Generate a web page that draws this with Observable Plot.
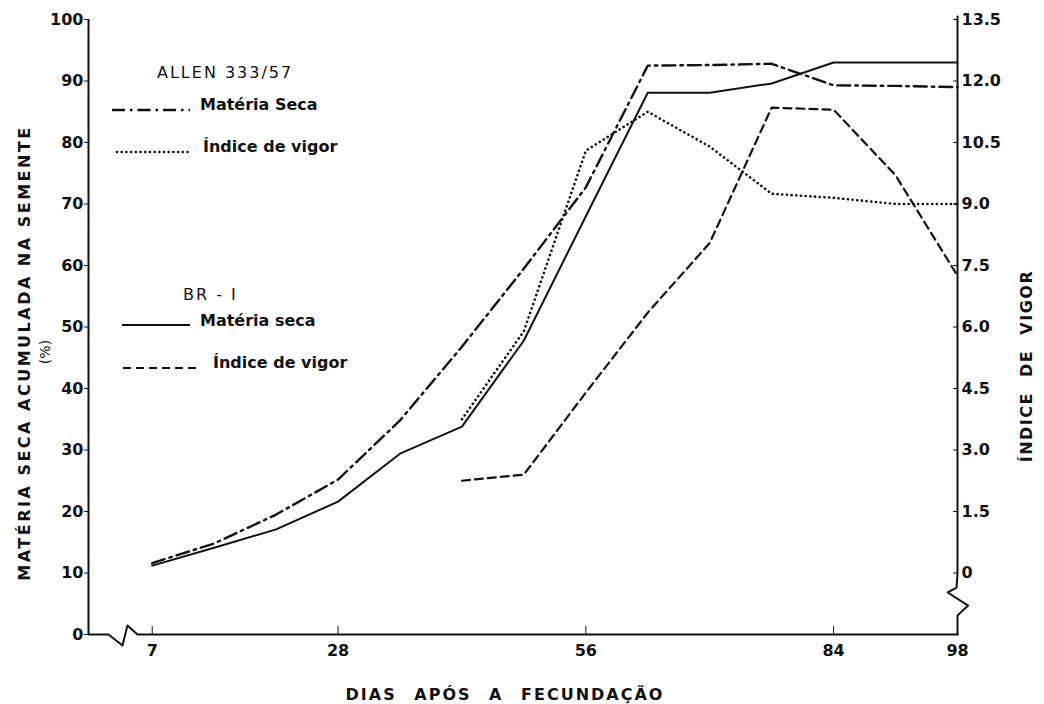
<!DOCTYPE html>
<html><head><meta charset="utf-8">
<script src="https://cdn.jsdelivr.net/npm/d3@7"></script>
<script src="https://cdn.jsdelivr.net/npm/@observablehq/plot@0.6"></script>
<style>
body{margin:0;background:#fff}
#chart svg{font-family:"DejaVu Sans",sans-serif;background:#fff}
</style>
</head><body><div id="chart"></div>
<script>
// ---- data ----
const days = [7,14,21,28,35,42,49,56,63,70,77,84,91,98];
const allenSeca = [11.6,14.8,19.5,25.2,34.8,46.8,59.5,72.7,92.5,92.6,92.8,89.3,89.2,89.0];
const br1Seca   = [11.2,14.1,17.1,21.6,29.4,33.8,47.8,68.0,88.1,88.1,89.6,93.0,93.0,93.0];
const vigorDays = [42,49,56,63,70,77,84,91,98];
const allenVigor = [3.75,5.9,10.3,11.25,10.4,9.25,9.15,9.0,9.0];
const br1Vigor   = [2.25,2.4,4.4,6.35,8.05,11.35,11.3,9.7,7.25];
const xTicks = [7,28,56,84,98];
const yTicks = [0,10,20,30,40,50,60,70,80,90,100];
const vigorTicks = [0,1.5,3,4.5,6,7.5,9,10.5,12,13.5];
// axis break outlines (data units)
const bottomAxisX = [-0.2,2.06,3.64,4.2,5.33,98];
const bottomAxisY = [0,0,-1.8,1.46,0,0];
const rightAxisX = [98,98,97.9,96.9,99.2,98.0,98.0];
const rightAxisY = [100.5,10,7.64,6.83,4.7,3.1,0];

// vigor (right axis) -> left-scale units
const vToY = v => 10 + v / 0.15;
const yToV = y => Math.round((y - 10) * 0.15 * 10) / 10;

const sec = days.map((d,i)=>({d, allen: allenSeca[i], br1: br1Seca[i]}));
const vig = vigorDays.map((d,i)=>({d, allen: vToY(allenVigor[i]), br1: vToY(br1Vigor[i])}));
const botAxis = bottomAxisX.map((x,i)=>({x, y: bottomAxisY[i]}));
const rAxis = rightAxisX.map((x,i)=>({x, y: rightAxisY[i]}));

const chart = Plot.plot({
  width: 1044, height: 704,
  marginLeft: 88, marginRight: 87, marginTop: 19, marginBottom: 70,
  x: {domain: [-0.2, 98]},
  y: {domain: [0, 100]},
  style: {fontSize: "16px", fontWeight: "bold", color: "#111"},
  marks: [
    Plot.ruleX([-0.2], {y1: 0, y2: 100, stroke: "#111", strokeWidth: 2}),
    Plot.line(botAxis, {x: "x", y: "y", stroke: "#111", strokeWidth: 2}),
    Plot.line(rAxis, {x: "x", y: "y", stroke: "#111", strokeWidth: 2}),
    Plot.axisY({ticks: yTicks, tickSize: 4, tickPadding: 1, label: null, fontWeight: "bold"}),
    Plot.axisY({anchor: "right", ticks: vigorTicks.map(vToY), tickSize: -5, tickPadding: 9, label: null,
      tickFormat: d => { const v = yToV(d); return v === 0 ? "0" : v.toFixed(1); }}),
    Plot.axisX({ticks: xTicks, tickSize: -8, tickPadding: 18, label: null}),
    Plot.line(sec, {x: "d", y: "br1", stroke: "#111", strokeWidth: 2}),
    Plot.line(sec, {x: "d", y: "allen", stroke: "#111", strokeWidth: 2.4, strokeDasharray: "13,5,2.5,5"}),
    Plot.line(vig, {x: "d", y: "allen", stroke: "#111", strokeWidth: 2.6, strokeDasharray: "0.1,4.6", strokeLinecap: "round"}),
    Plot.line(vig, {x: "d", y: "br1", stroke: "#111", strokeWidth: 2.2, strokeDasharray: "8,5"})
  ]
});
document.getElementById("chart").appendChild(chart);

// ---- titles and legend ----
const svg = d3.select(chart);
const g = svg.append("g").attr("fill", "#111");
function txt(x, y, s, opts = {}) {
  const t = g.append("text").attr("x", x).attr("y", y).text(s)
    .attr("font-size", opts.size || 16).attr("font-weight", opts.weight || "bold")
    .attr("text-anchor", opts.anchor || "start");
  if (opts.ls) t.attr("letter-spacing", opts.ls);
  if (opts.ws) t.attr("word-spacing", opts.ws);
  if (opts.rot) t.attr("transform", `rotate(${opts.rot},${x},${y})`);
  return t;
}
txt(505, 700, "DIAS APÓS A FECUNDAÇÃO", {anchor: "middle", ls: 2, ws: 10});
txt(30, 353, "MATÉRIA SECA ACUMULADA NA SEMENTE", {anchor: "middle", ls: 2.5, rot: -90});
txt(50, 352, "(%)", {anchor: "middle", size: 14, weight: "normal", rot: -90});
txt(1032, 366, "ÍNDICE DE VIGOR", {anchor: "middle", ls: 1.5, ws: 8, rot: -90});

const legend = [
  {sx1: 112, sx2: 190, sy: 110, tx: 200, ty: 110, label: "Matéria Seca", w: 2.4, dash: "13,5,2.5,5", cap: "butt"},
  {sx1: 117, sx2: 190, sy: 152, tx: 203, ty: 152, label: "Índice de vigor", w: 2.6, dash: "0.1,4.6", cap: "round"},
  {sx1: 122, sx2: 190, sy: 325, tx: 200, ty: 326, label: "Matéria seca", w: 2, dash: null, cap: "butt"},
  {sx1: 123, sx2: 197, sy: 368, tx: 213, ty: 368, label: "Índice de vigor", w: 2.2, dash: "8,5", cap: "butt"}
];
txt(157, 78, "ALLEN 333/57", {weight: "normal", ls: 2});
txt(183, 300, "BR - I", {weight: "normal", ls: 2});
legend.forEach(l => {
  const ln = g.append("line").attr("x1", l.sx1).attr("x2", l.sx2).attr("y1", l.sy).attr("y2", l.sy)
    .attr("stroke", "#111").attr("stroke-width", l.w).attr("stroke-linecap", l.cap);
  if (l.dash) ln.attr("stroke-dasharray", l.dash);
  txt(l.tx, l.ty, l.label, {size: 16});
});
</script>
</body></html>
